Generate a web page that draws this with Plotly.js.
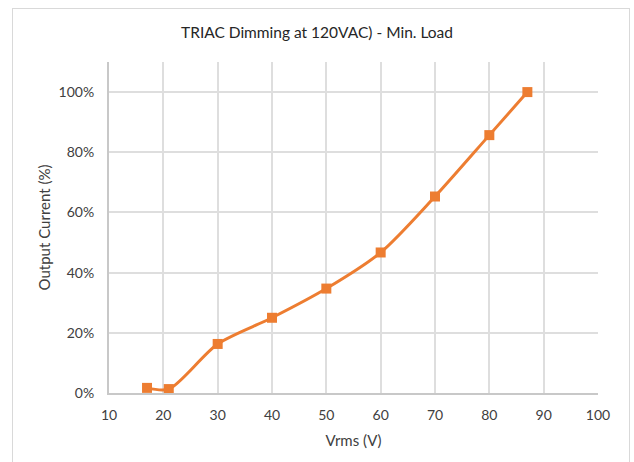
<!DOCTYPE html>
<html>
<head>
<meta charset="utf-8">
<script src="https://cdn.plot.ly/plotly-3.0.1.min.js"></script>
<style>
html,body{margin:0;padding:0;background:#fff;overflow:hidden;}
#frame{position:absolute;left:12px;top:8px;width:616px;height:470px;border:1px solid #d9d9d9;pointer-events:none;z-index:5;}
#chart{position:absolute;left:0;top:0;width:634px;height:462px;}
</style>
</head>
<body>
<div id="chart"></div>
<div id="frame"></div>
<script>
const vrms = [17, 21, 30, 40, 50, 60, 70, 80, 87];
const outputCurrent = [0.017, 0.013, 0.163, 0.25, 0.347, 0.467, 0.653, 0.857, 1.0];
const xTicks = [10, 20, 30, 40, 50, 60, 70, 80, 90, 100];
const yTicks = [0, 0.2, 0.4, 0.6, 0.8, 1.0];
const yTickLabels = ['0%', '20%', '40%', '60%', '80%', '100%'];

const font = "Lato, 'Open Sans', 'Liberation Sans', sans-serif";

Plotly.newPlot('chart', [{
  x: vrms, y: outputCurrent,
  type: 'scatter', mode: 'lines+markers',
  line: {color: '#ED7D31', width: 3, shape: 'spline', smoothing: 0.8},
  marker: {symbol: 'square', size: 10, color: '#ED7D31'},
  hoverinfo: 'skip'
}], {
  width: 634, height: 462,
  margin: {l: 109, r: 36, t: 62, b: 69},
  paper_bgcolor: '#ffffff', plot_bgcolor: '#ffffff',
  font: {family: font, color: '#404040', size: 14},
  title: {text: 'TRIAC Dimming at 120VAC) - Min. Load', font: {family: font, size: 15.5, color: '#262626'}, x: 0.5, xanchor: 'center', y: 0.93, yanchor: 'middle'},
  showlegend: false,
  xaxis: {
    range: [10, 100], tickvals: xTicks, ticktext: xTicks.map(String),
    showgrid: true, gridcolor: '#dedede', gridwidth: 2,
    zeroline: false, showline: true, linecolor: '#c8c8c8', linewidth: 2,
    ticks: '', tickfont: {size: 14, color: '#404040'}, ticklabelstandoff: 8,
    title: {text: 'Vrms (V)', font: {size: 15, color: '#404040'}, standoff: 14}
  },
  yaxis: {
    range: [0, 1.1], tickvals: yTicks, ticktext: yTickLabels,
    showgrid: true, gridcolor: '#dedede', gridwidth: 2,
    zeroline: false, showline: true, linecolor: '#c8c8c8', linewidth: 2,
    ticks: '', tickfont: {size: 14, color: '#404040'}, ticklabelstandoff: 10,
    title: {text: 'Output Current (%)', font: {size: 15, color: '#404040'}, standoff: 4}
  }
}, {displayModeBar: false, staticPlot: true});
</script>
</body>
</html>
